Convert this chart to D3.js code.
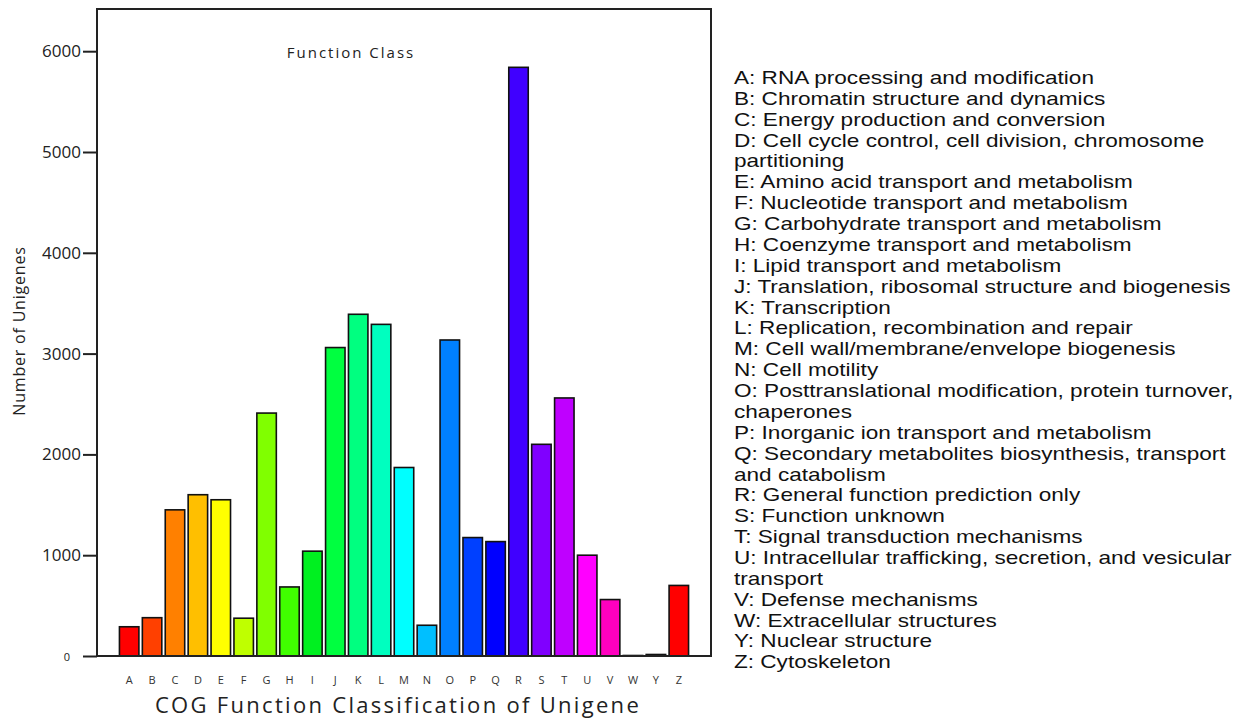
<!DOCTYPE html>
<html>
<head>
<meta charset="utf-8">
<script src="https://cdn.jsdelivr.net/npm/d3@7"></script>
<style>
  html, body { margin: 0; padding: 0; background: #fff; }
  svg { display: block; }
</style>
</head>
<body>
<svg id="chart" width="1241" height="722"></svg>
<script>
// COG function classes and number of unigenes in each
const categories = ["A","B","C","D","E","F","G","H","I","J","K","L","M","N","O","P","Q","R","S","T","U","V","W","Y","Z"];
const counts = [290, 380, 1450, 1600, 1550, 375, 2410, 685, 1040, 3060, 3390, 3290, 1870, 305, 3135, 1175, 1135, 5840, 2100, 2560, 1000, 560, 5, 15, 700];
const yTicks = [0, 1000, 2000, 3000, 4000, 5000, 6000];
const barColors = ["#ff0000","#ff4000","#ff8000","#ffbf00","#ffff00","#bfff00","#80ff00","#40ff00","#00f020","#00ff40",
                   "#00ff80","#00ffbf","#00ffff","#00bfff","#0080ff","#0040ff","#0000ff","#4000ff","#8000ff","#bf00ff",
                   "#ff00ff","#ff00bf","#ff0080","#ff0040","#ff0000"];
const legendLines = [
  "A: RNA processing and modification",
  "B: Chromatin structure and dynamics",
  "C: Energy production and conversion",
  "D: Cell cycle control, cell division, chromosome",
  "partitioning",
  "E: Amino acid transport and metabolism",
  "F: Nucleotide transport and metabolism",
  "G: Carbohydrate transport and metabolism",
  "H: Coenzyme transport and metabolism",
  "I: Lipid transport and metabolism",
  "J: Translation, ribosomal structure and biogenesis",
  "K: Transcription",
  "L: Replication, recombination and repair",
  "M: Cell wall/membrane/envelope biogenesis",
  "N: Cell motility",
  "O: Posttranslational modification, protein turnover,",
  "chaperones",
  "P: Inorganic ion transport and metabolism",
  "Q: Secondary metabolites biosynthesis, transport",
  "and catabolism",
  "R: General function prediction only",
  "S: Function unknown",
  "T: Signal transduction mechanisms",
  "U: Intracellular trafficking, secretion, and vesicular",
  "transport",
  "V: Defense mechanisms",
  "W: Extracellular structures",
  "Y: Nuclear structure",
  "Z: Cytoskeleton"
];

const svg = d3.select("#chart");
const plot = { left: 97, right: 711, top: 9, bottom: 656 };
const axisFont = "'Open Sans', 'DejaVu Sans', sans-serif";

const x = d3.scaleBand()
  .domain(categories)
  .range([plot.left, plot.right])
  .paddingInner(0.15)
  .paddingOuter(0.98);

const y = d3.scaleLinear()
  .domain([0, 6000])
  .range([plot.bottom, plot.bottom - 6000 * 0.1008]);

// bars
svg.append("g")
  .selectAll("rect")
  .data(categories)
  .join("rect")
  .attr("x", d => x(d))
  .attr("width", x.bandwidth())
  .attr("y", (d, i) => y(counts[i]))
  .attr("height", (d, i) => y(0) - y(counts[i]))
  .attr("fill", (d, i) => barColors[i])
  .attr("stroke", "#111")
  .attr("stroke-width", 1.6);

// plot frame
svg.append("rect")
  .attr("x", plot.left).attr("y", plot.top)
  .attr("width", plot.right - plot.left).attr("height", plot.bottom - plot.top)
  .attr("fill", "none").attr("stroke", "#222").attr("stroke-width", 2);

// y axis
const yAxis = svg.append("g")
  .attr("transform", `translate(${plot.left},0)`)
  .call(d3.axisLeft(y).tickValues(yTicks).tickSize(14).tickPadding(2).tickFormat(d3.format("d")));
yAxis.select(".domain").remove();
yAxis.selectAll(".tick line").attr("stroke", "#222").attr("stroke-width", 2);
yAxis.selectAll(".tick text")
  .attr("fill", "#222")
  .style("font-family", axisFont)
  .style("font-size", "17px");
yAxis.selectAll(".tick").filter(d => d === 0).select("text")
  .attr("x", -27)
  .attr("dy", "0.45em")
  .style("font-size", "11px");

// x axis letters
const xAxis = svg.append("g")
  .attr("transform", `translate(0,${plot.bottom})`)
  .call(d3.axisBottom(x).tickSize(0).tickPadding(20));
xAxis.select(".domain").remove();
xAxis.selectAll(".tick text")
  .attr("fill", "#333")
  .style("font-family", axisFont)
  .style("font-size", "11px");

// axis titles
svg.append("text")
  .attr("x", 398).attr("y", 713)
  .attr("text-anchor", "middle")
  .attr("fill", "#222")
  .style("font-family", axisFont)
  .style("font-size", "22px")
  .style("letter-spacing", "2.3px")
  .text("COG Function Classification of Unigene");

svg.append("text")
  .attr("transform", "translate(25,331) rotate(-90)")
  .attr("text-anchor", "middle")
  .attr("fill", "#222")
  .style("font-family", axisFont)
  .style("font-size", "16px")
  .style("letter-spacing", "0.8px")
  .text("Number of Unigenes");

svg.append("text")
  .attr("x", 351).attr("y", 58)
  .attr("text-anchor", "middle")
  .attr("fill", "#222")
  .style("font-family", axisFont)
  .style("font-size", "15px")
  .style("letter-spacing", "2px")
  .text("Function Class");

// legend: wide-set Arial lines
svg.append("g")
  .attr("transform", "translate(734,0) scale(1.29,1)")
  .selectAll("text")
  .data(legendLines)
  .join("text")
  .attr("x", 0)
  .attr("y", (d, i) => 84 + i * 20.87)
  .attr("fill", "#111")
  .style("font-family", "'Liberation Sans', Arial, sans-serif")
  .style("font-size", "17.5px")
  .text(d => d);
</script>
</body>
</html>
